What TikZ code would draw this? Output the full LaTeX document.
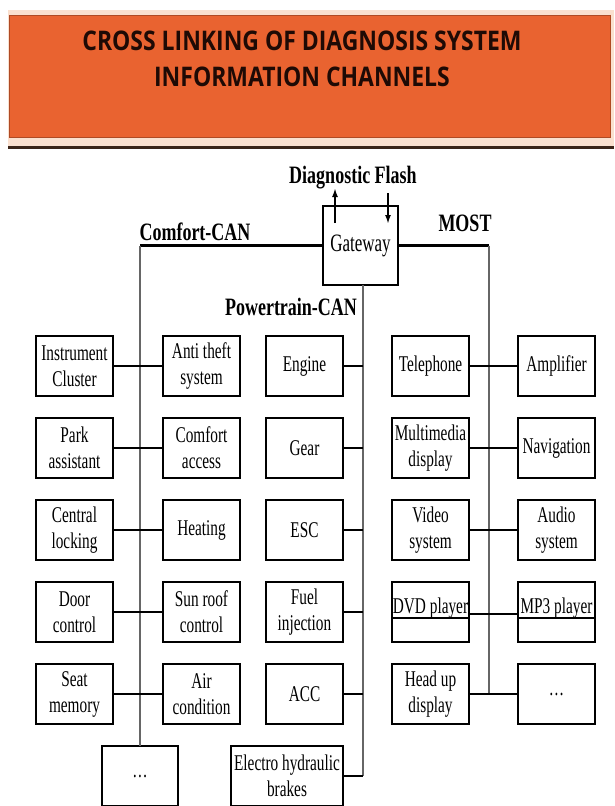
\documentclass[tikz,border=0pt]{standalone}
\usepackage{fontspec}
\setmainfont{Liberation Serif}[FakeStretch=0.68]
\newfontfamily\busfont{Liberation Serif}[FakeStretch=0.72]
\newfontfamily\titlefont{Open Sans}[FakeStretch=0.85]
\usetikzlibrary{arrows.meta, positioning}
\definecolor{bandpeach}{RGB}{250,224,207}
\definecolor{bandorange}{RGB}{233,99,48}
\definecolor{bandrule}{RGB}{58,36,24}
\definecolor{titleink}{RGB}{30,10,5}
\tikzset{
  box/.style={rectangle,draw,line width=2.7pt,outer sep=0pt,align=center,inner sep=1pt,
    minimum width=77pt,minimum height=60pt,font=\fontsize{22.5}{26}\selectfont},
  splitbox/.style={box,inner ysep=0pt,text height=31pt,text depth=29pt,
    path picture={\draw[line width=2.7pt]
      ([yshift=-36pt]path picture bounding box.north west) --
      ([yshift=-36pt]path picture bounding box.north east);}},
  bus/.style={draw=black!60,line width=1.3pt},
  stub/.style={line width=2.8pt},
  trunk/.style={line width=3pt},
  flash/.style={-{Latex[length=9pt,width=6pt]},line width=1.8pt},
  buslabel/.style={font=\busfont\bfseries\fontsize{25}{28}\selectfont,inner sep=0pt,anchor=base},
  titletext/.style={font=\titlefont\bfseries\fontsize{27}{36}\selectfont,text=titleink,align=center,inner sep=0pt}
}

\begin{document}
\begin{tikzpicture}[x=1pt,y=1pt]
\useasboundingbox (0,0) rectangle (614,-806);
\fill[white] (0,0) rectangle (614,-806);
% heading band
\fill[bandpeach] (8,-10) rectangle (614,-146);
\filldraw[fill=bandorange,draw=bandorange!75!black,line width=0.6pt] (9,-15) rectangle (610,-137);
\draw[bandrule,line width=3pt] (8,-147.5) -- (614,-147.5);
\node[titletext] (title) at (302,-58.5) {CROSS LINKING OF DIAGNOSIS SYSTEM\\INFORMATION CHANNELS};

% gateway and bus labels
\node[box,minimum width=75pt,minimum height=79pt,font=\fontsize{25}{28}\selectfont] (gw) at (360.5,-245.5) {Gateway};
\node[buslabel] (dflash) at (353,-183) {Diagnostic Flash};
\node[buslabel] (comfortcan) at (195,-240) {Comfort-CAN};
\node[buslabel] (most) at (465,-231) {MOST};
\node[buslabel] (ptcan) at (291,-315) {Powertrain-CAN};
\coordinate (dfout) at (335,-188);
\coordinate (dfin) at (388,-193);
\draw[flash] (335,-223) -- (dfout);
\draw[flash] (dfin) -- (388,-224);

% first row
\node[box] (instr) at (74.5,-366) {Instrument\\Cluster};
\node[box, right=50pt of instr] (antitheft) {Anti theft\\system};
\node[box, right=26pt of antitheft] (engine) {Engine};
\node[box, right=49pt of engine] (phone) {Telephone};
\node[box, right=49pt of phone] (amp) {Amplifier};
% second row
\node[box, below=22pt of instr] (park) {Park\\assistant};
\node[box, below=22pt of antitheft] (access) {Comfort\\access};
\node[box, below=22pt of engine] (gear) {Gear};
\node[box, below=22pt of phone] (mmd) {Multimedia\\display};
\node[box, below=22pt of amp] (navi) {Navigation};
% third row
\node[box, below=22pt of park] (lock) {Central\\locking};
\node[box, below=22pt of access] (heat) {Heating};
\node[box, below=22pt of gear] (esc) {ESC};
\node[box, below=22pt of mmd] (video) {Video\\system};
\node[box, below=22pt of navi] (audio) {Audio\\system};
% fourth row
\node[box, below=22pt of lock] (door) {Door\\control};
\node[box, below=22pt of heat] (sunroof) {Sun roof\\control};
\node[box, below=22pt of esc] (fuel) {Fuel\\injection};
\node[splitbox, below=22pt of video] (dvd) {DVD player};
\node[splitbox, below=22pt of audio] (mp3) {MP3 player};
% fifth row
\node[box, below=22pt of door] (seat) {Seat\\memory};
\node[box, below=22pt of sunroof] (aircon) {Air\\condition};
\node[box, below=22pt of fuel] (acc) {ACC};
\node[box, below=22pt of dvd] (hud) {Head up\\display};
\node[box, below=22pt of mp3] (mostdots) {\dots};
% last row
\node[box, minimum width=76pt] (comfdots) at (140,-776) {\dots};
\node[box, minimum width=112pt, below left=22pt and 0pt of acc.south east] (ehb) {Electro hydraulic\\brakes};

% Comfort-CAN
\coordinate (comfbus) at (140,-245.5);
\draw[trunk] (gw.west) -- (comfbus);
\draw[bus] (comfbus) -- (comfdots.north);
\foreach \a/\b in {instr/antitheft, park/access, lock/heat, door/sunroof, seat/aircon}
  \draw[stub] (\a) -- (\b);

% Powertrain-CAN
\coordinate (ptend) at ([xshift=2.5pt]gw.south |- ehb.east);
\draw[bus] ([xshift=2.5pt]gw.south) -- (ptend);
\foreach \n in {engine, gear, esc, fuel, acc, ehb}
  \draw[stub] (\n.east) -- (\n.east -| ptend);

% MOST
\coordinate (mostbus) at (489,-245.5);
\draw[trunk] (gw.east) -- (mostbus);
\draw[bus] (mostbus) -- (mostbus |- hud.east);
\foreach \a/\b in {phone/amp, mmd/navi, video/audio, hud/mostdots}
  \draw[stub] (\a) -- (\b);
\draw[stub] ([yshift=-2pt]dvd.east) -- ([yshift=-2pt]mp3.west);
\end{tikzpicture}
\end{document}
